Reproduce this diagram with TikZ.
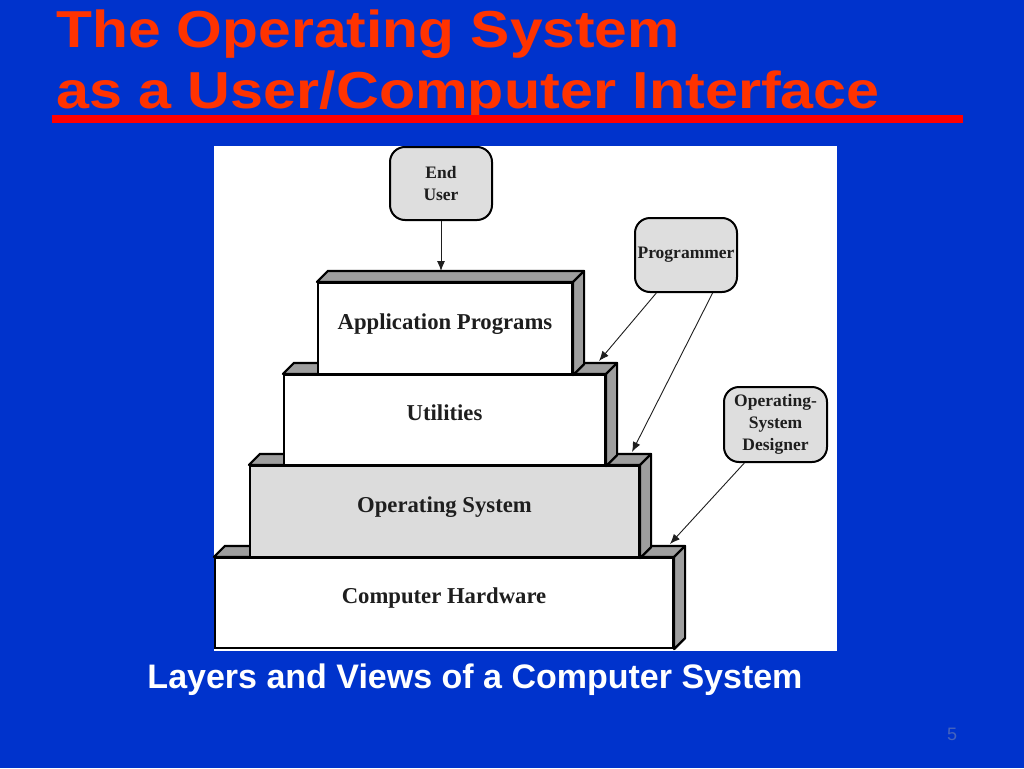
\documentclass[tikz,border=0pt]{standalone}
\usepackage{fontspec}
\setmainfont{Liberation Serif}
\newfontfamily\arialfont{Liberation Sans}
\usetikzlibrary{arrows.meta,calc}
\definecolor{bgblue}{RGB}{0,51,204}
\definecolor{titlered}{RGB}{255,51,0}
\definecolor{barred}{RGB}{255,0,0}
\definecolor{sidegray}{RGB}{158,158,158}
\definecolor{boxgray}{RGB}{222,222,222}
\definecolor{osgray}{RGB}{220,220,220}
\definecolor{numblue}{RGB}{70,100,190}
\definecolor{inkblack}{RGB}{30,30,30}
\begin{document}
\begin{tikzpicture}[x=1pt,y=-1pt,
  layerbox/.style={draw=black, line width=2.2pt, rectangle, inner sep=0pt,
    text=inkblack, text height=15pt, text depth=14pt,
    font=\fontsize{22.7}{26}\selectfont\bfseries},
  face/.style={draw=black, line width=2.2pt, fill=sidegray, line join=round},
  viewbox/.style={draw=black, line width=2pt, rounded corners=15pt, fill=boxgray,
    inner sep=0pt, align=center, text=inkblack,
    font=\fontsize{17.5}{22}\selectfont\bfseries},
  conn/.style={line width=0.9pt, draw=inkblack, -{Latex[length=10pt,width=8pt]}},
  titletext/.style={anchor=base west, inner sep=0pt, text=titlered,
    font=\arialfont\bfseries\fontsize{52}{52}\selectfont}
]
\useasboundingbox (0,0) rectangle (1024,768);
\fill[bgblue] (0,0) rectangle (1024,768);

% title
\node[titletext] (t1) at (56,48) {\scalebox{1.13}[1]{The Operating System}};
\node[titletext] (t2) at (56,108.5) {\scalebox{1.14}[1]{as a User/Computer Interface}};
\fill[barred] (52,115) rectangle (963,123);

% white panel
\fill[white] (214,146) rectangle (837,651);

% layers, bottom up
\def\dd{11}
\newcommand{\layerfaces}[1]{%
  \draw[face] (#1.north west) -- ($(#1.north west)+(\dd,-\dd)$) -- ($(#1.north east)+(\dd,-\dd)$)
    -- ($(#1.south east)+(\dd,-\dd)$) -- (#1.south east) -- (#1.north east) -- cycle;
  \draw[line width=2.2pt, line cap=round] (#1.north east) -- ($(#1.north east)+(\dd,-\dd)$);
}
\node[layerbox, fill=white, minimum width=458pt, minimum height=90pt] (hw) at (444,603) {Computer Hardware};
\layerfaces{hw}
\node[layerbox, fill=osgray, minimum width=389pt, minimum height=91pt] (os) at (444.5,511.5) {Operating System};
\layerfaces{os}
\node[layerbox, fill=white, minimum width=321pt, minimum height=90pt] (util) at (444.5,420) {Utilities};
\layerfaces{util}
\node[layerbox, fill=white, minimum width=254pt, minimum height=91pt] (app) at (445,328.5) {Application Programs};
\layerfaces{app}

% views
\node[viewbox, minimum width=102pt, minimum height=73pt] (user) at (441,183.5) {End\\User};
\node[viewbox, minimum width=102pt, minimum height=74pt] (prog) at (686,255) {Programmer};
\node[viewbox, minimum width=103pt, minimum height=75pt] (osd) at (775.5,424.5) {Operating-\\System\\Designer};

% arrow targets
\coordinate (usertip) at (441,271);
\coordinate (progtipA) at (599,361);
\coordinate (progtipB) at (632,452);
\coordinate (osdtip) at (670,544);

\draw[conn] (user.south) -- (usertip);
\draw[conn] (prog.232) -- (progtipA);
\draw[conn] (prog.305) -- (progtipB);
\draw[conn] (osd.231) -- (osdtip);

% caption and page number
\node[anchor=base, inner sep=0pt, text=white, font=\arialfont\bfseries\fontsize{34}{34}\selectfont] (caption) at (475,688) {Layers and Views of a Computer System};
\node[anchor=base, inner sep=0pt, text=numblue, font=\arialfont\fontsize{18}{18}\selectfont] (pagenum) at (952,740) {5};
\end{tikzpicture}
\end{document}
